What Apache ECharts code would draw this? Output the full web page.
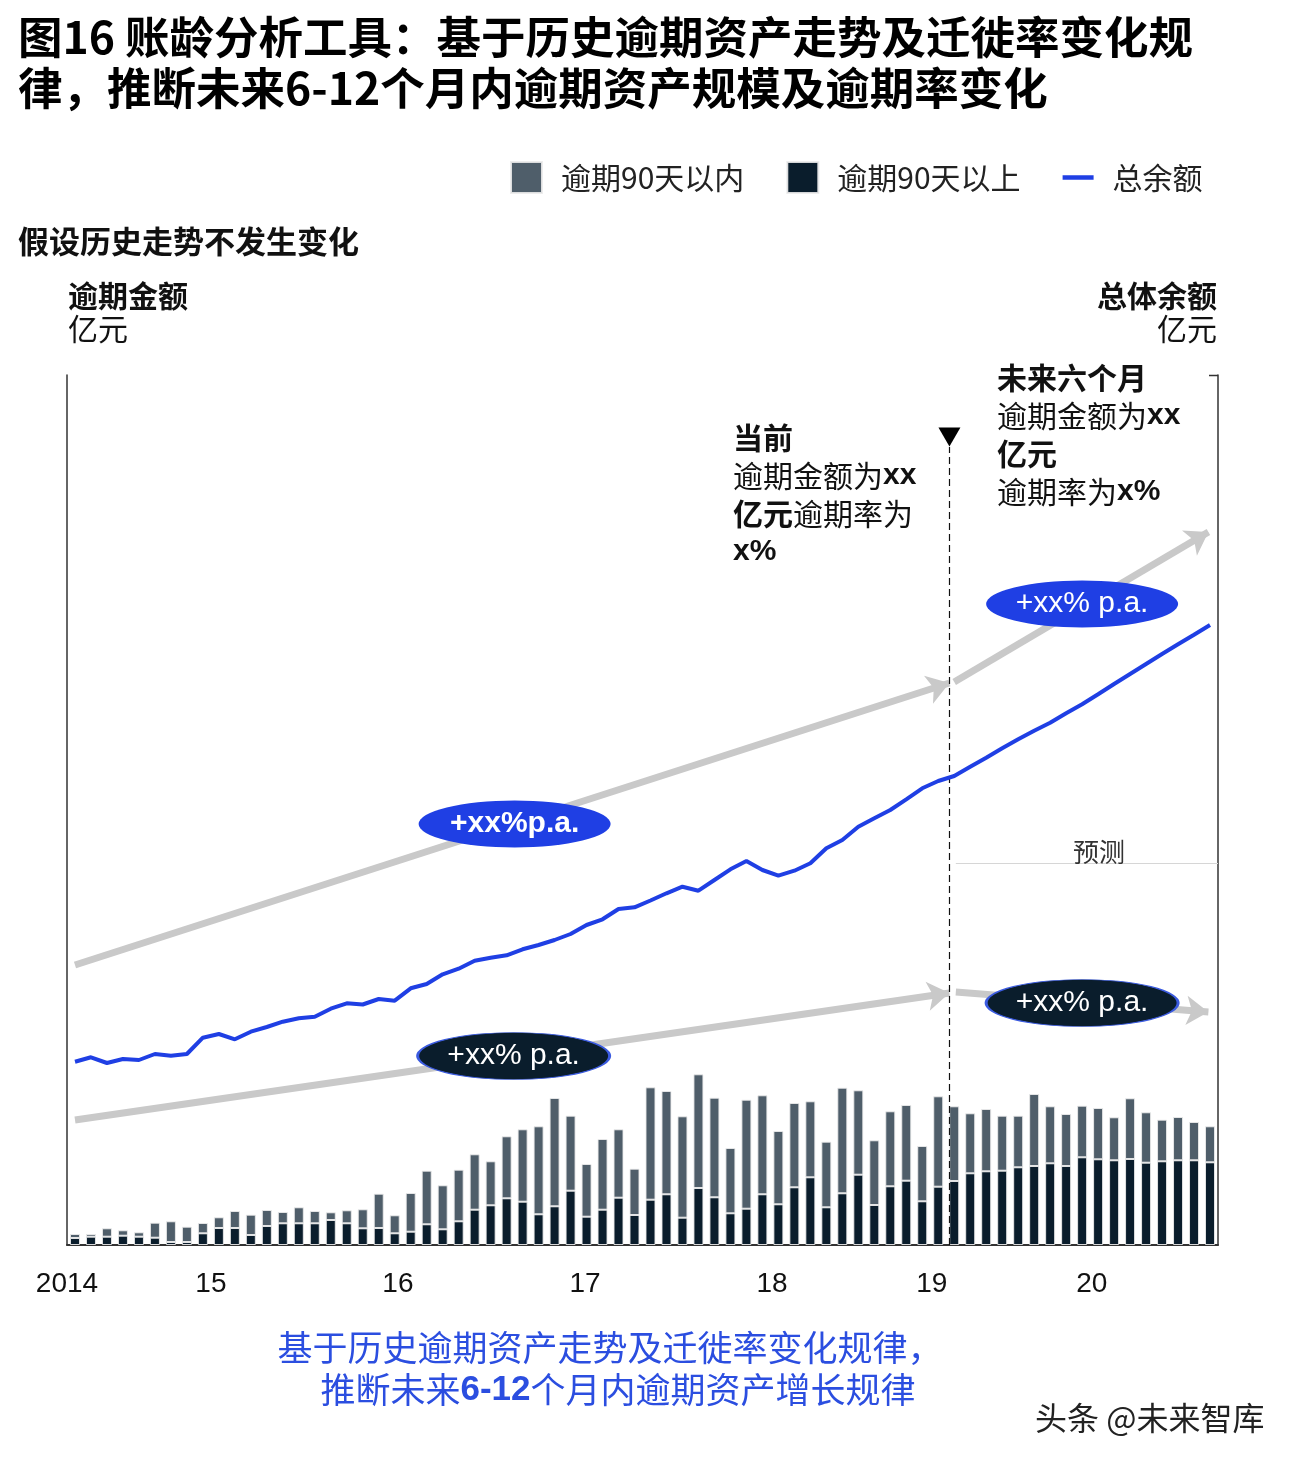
<!DOCTYPE html>
<html><head><meta charset="utf-8">
<script src="https://cdn.jsdelivr.net/npm/echarts@6/dist/echarts.min.js"></script>
<style>html,body{margin:0;padding:0;background:#fff}#c{width:1300px;height:1464px}</style>
</head><body><div id="c"></div>
<script>
// ---- data (亿元, relative scale) ----
const periods = Array.from({length: 72}, (_, i) => 'P' + (i + 1));
const over90 = [7,8.3,8.3,9.3,8.3,7.3,3,3,11.7,17,17,10,19,21.7,21.7,21.7,25,21.7,16.7,17,
  11.7,13.3,20.7,15.7,23.7,35.3,39.7,46.7,43.3,30.7,38.7,54.3,28.3,35.3,47.3,30,45.3,50.7,27.3,57,
  47.7,31.7,36.3,50.7,40.7,57.7,67.7,37.7,51.7,70.3,40,58.7,64.3,43.7,58.3,64,71.7,73.7,74.3,77.7,
  79,81.7,79,87.7,85.7,84.7,86,82.3,83.7,84.7,84.7,82.7];
const within90 = [4,2.7,8.4,5.4,4.4,15,20.7,15.3,10.3,10.7,17,20.3,16,11.3,16,12.3,7.7,13,19,34.3,
  18,38.7,53.6,44,51.6,55.4,44,62,72.4,88,108.3,75,52.7,70.7,68.4,46.3,112.4,103.3,101.4,113.7,
  99.6,65.3,109,99,73.3,84.3,76,65.6,105.6,84.4,64.7,75,75.7,55.3,90.4,74.7,60,62.3,55,51.6,
  72,57,52,51.6,51.3,43,60.7,50.4,41.6,43.3,38.3,36];
const totalBalance = [183.3,187.7,182,186,185,191,189.3,191,207.3,211,205.7,213.3,218,223.3,226.7,228.3,236.3,241.7,240.5,246,
  244.3,256.7,261,270.7,276.3,284.3,287.3,289.7,295.7,300,305,311,320,325.7,336,337.7,344.5,351.7,358.3,354.3,
  365,375.7,384,375,369.3,374.3,381.7,396.7,405,418.3,426.7,435,445.7,456.7,464,469,478.3,487.3,496.7,505.7,
  514.3,522.3,531.7,540.7,550.7,561,571,581,591,600.7,610.3,620];
const tickPositions = [-0.5, 8.5, 20.2, 31.9, 43.6, 53.6, 63.6];
const tickLabels = ['2014', '15', '16', '17', '18', '19', '20'];
const forecastStart = 54.7;
const arrowSegments = [
  [[0, 280], [54.7, 562]],
  [[55.0, 563], [70.9, 713]],
  [[0, 125], [54.7, 252]],
  [[55.1, 253], [70.9, 233]]
];
const growthBadges = [
  {pos: [27.5, 421], text: '+xx%p.a.', kind: 'blue', bold: true},
  {pos: [63.0, 641], text: '+xx% p.a.', kind: 'blue', bold: false},
  {pos: [27.44, 189], text: '+xx% p.a.', kind: 'dark', bold: false},
  {pos: [63.0, 242], text: '+xx% p.a.', kind: 'dark', bold: false}
];

const CJK = "'Noto Sans CJK SC', sans-serif";
const LAT = "'Liberation Sans', Arial, sans-serif";
const GRAY = '#4f5e6a', DARK = '#0a1d2c', BLUE = '#1f3fe4';

const chart = echarts.init(document.getElementById('c'), null, {renderer: 'canvas'});

const txt = (x, y, text, o = {}) => ({
  type: 'text', x, y, z: 100,
  style: Object.assign({text, fontFamily: CJK, fontSize: 30, fill: '#111', align: 'left', verticalAlign: 'middle'}, o)
});
const boldRich = (size, color) => ({
  b: {fontWeight: 'bold', fontFamily: CJK, fontSize: size, fill: color, lineHeight: 38},
  n: {fontFamily: CJK, fontSize: size, fill: color, lineHeight: 38},
  a: {fontWeight: 'bold', fontFamily: LAT, fontSize: size, fill: color, lineHeight: 38}
});

const option = {
  animation: false,
  backgroundColor: '#fff',
  grid: {left: 67, right: 82, top: 375, bottom: 219},
  legend: {
    left: 510, top: 161, padding: 0, itemWidth: 31, itemHeight: 31, itemGap: 42,
    symbolKeepAspect: true,
    textStyle: {fontSize: 30, fontFamily: CJK, color: '#222', padding: [0, 0, 2, 14]},
    data: [
      {name: '逾期90天以内', icon: 'rect'},
      {name: '逾期90天以上', icon: 'rect'},
      {name: '总余额', icon: 'path://M0,0h31v4.5h-31z'}
    ]
  },
  xAxis: [
    {type: 'category', data: periods, position: 'top', boundaryGap: true,
      axisLine: {show: false}, axisTick: {show: false}, axisLabel: {show: false}},
    {type: 'value', min: -0.5, max: 71.5, position: 'bottom',
      axisLine: {show: true, onZero: false, lineStyle: {color: '#333', width: 2}},
      axisTick: {show: false}, splitLine: {show: false},
      axisLabel: {
        customValues: tickPositions,
        formatter: v => {
          let best = 0;
          tickPositions.forEach((p, i) => { if (Math.abs(p - v) < Math.abs(tickPositions[best] - v)) best = i; });
          return tickLabels[best];
        },
        fontSize: 28, fontFamily: LAT, color: '#111', margin: 25
      }}
  ],
  yAxis: [
    {type: 'value', min: 0, max: 870, position: 'left',
      axisLine: {show: true, onZero: false, lineStyle: {color: '#333', width: 1.5}},
      axisTick: {show: false}, axisLabel: {show: false}, splitLine: {show: false}},
    {type: 'value', min: 0, max: 870, position: 'right',
      axisLine: {show: true, onZero: false, lineStyle: {color: '#333', width: 1.5}},
      axisTick: {show: false}, axisLabel: {show: false}, splitLine: {show: false}}
  ],
  series: [
    {name: '逾期90天以上', type: 'bar', stack: 'od', xAxisIndex: 0, yAxisIndex: 0, barWidth: 10,
      data: over90, itemStyle: {color: DARK, borderColor: 'rgba(235,235,235,0.9)', borderWidth: 1}},
    {name: '逾期90天以内', type: 'bar', stack: 'od', xAxisIndex: 0, yAxisIndex: 0, barWidth: 10,
      data: within90, itemStyle: {color: GRAY, borderColor: 'rgba(235,235,235,0.9)', borderWidth: 1}},
    {name: 'arrows', type: 'line', xAxisIndex: 1, yAxisIndex: 1, data: [], z: 3,
      markLine: {
        silent: true, symbol: ['none', 'arrow'], symbolSize: 22, label: {show: false},
        lineStyle: {color: '#c9c9c9', width: 7, type: 'solid'},
        emphasis: {disabled: true},
        data: arrowSegments.map(s => [{coord: s[0]}, {coord: s[1]}])
      }},
    {name: 'guides', type: 'line', xAxisIndex: 1, yAxisIndex: 1, data: [], z: 4,
      markLine: {
        silent: true, symbol: ['none', 'none'], label: {show: false}, emphasis: {disabled: true},
        data: [
          [{coord: [forecastStart, 0], lineStyle: {color: '#111', width: 1.2, type: [7, 4]}},
           {coord: [forecastStart, 798]}],
          [{coord: [55.1, 382], lineStyle: {color: '#d6d6d6', width: 1, type: 'solid'}},
           {coord: [71.5, 382]}]
        ]
      }},
    {name: '总余额', type: 'line', xAxisIndex: 0, yAxisIndex: 1, data: totalBalance, z: 5,
      symbol: 'none', lineStyle: {color: BLUE, width: 4}, itemStyle: {color: BLUE}},
    {name: 'badges', type: 'line', xAxisIndex: 1, yAxisIndex: 1, data: [], z: 10,
      markPoint: {
        silent: true,
        data: growthBadges.map(b => ({
          coord: b.pos, symbol: 'circle', symbolSize: [192, 47],
          itemStyle: b.kind === 'blue' ? {color: BLUE} : {color: DARK, borderColor: '#3b5be0', borderWidth: 1.5},
          label: {show: true, position: 'inside', formatter: b.text, color: '#fff', fontSize: 30,
            fontFamily: LAT, fontWeight: b.bold ? 'bold' : 'normal'}
        })).concat([{
          coord: [forecastStart, 808], symbol: 'triangle', symbolRotate: 180, symbolSize: [22, 19],
          itemStyle: {color: '#000'}, label: {show: false}
        }])
      }}
  ],
  graphic: [
    txt(18, 37, '图16 账龄分析工具：基于历史逾期资产走势及迁徙率变化规', {fontSize: 44.5, fontWeight: 'bold', fill: '#000'}),
    txt(18, 88, '律，推断未来6-12个月内逾期资产规模及逾期率变化', {fontSize: 44.5, fontWeight: 'bold', fill: '#000'}),
    txt(18, 241, '假设历史走势不发生变化', {fontSize: 31, fontWeight: 'bold'}),
    txt(68, 296, '逾期金额', {fontWeight: 'bold'}),
    txt(68, 329, '亿元'),
    txt(1217, 296, '总体余额', {fontWeight: 'bold', align: 'right'}),
    txt(1217, 329, '亿元', {align: 'right'}),
    {type: 'polyline', z: 100, shape: {points: [[1209, 375.5], [1218, 375.5]]}, style: {stroke: '#333', lineWidth: 1.5}},
    {type: 'text', x: 733, y: 419, z: 100, style: {
      text: '{b|当前}\n{n|逾期金额为}{a|xx}\n{b|亿元}{n|逾期率为}\n{a|x%}',
      rich: boldRich(30, '#111'), verticalAlign: 'top', align: 'left'}},
    {type: 'text', x: 997, y: 359, z: 100, style: {
      text: '{b|未来六个月}\n{n|逾期金额为}{a|xx}\n{b|亿元}\n{n|逾期率为}{a|x%}',
      rich: boldRich(30, '#111'), verticalAlign: 'top', align: 'left'}},
    txt(1099, 852, '预测', {fontSize: 26, align: 'center', fill: '#333'}),
    {type: 'text', x: 610, y: 1348, z: 100, style: {
      text: '基于历史逾期资产走势及迁徙率变化规律，', fontFamily: CJK, fontSize: 35, fill: '#2b4ee0',
      align: 'center', verticalAlign: 'middle'}},
    {type: 'text', x: 618, y: 1390, z: 100, style: {
      text: '{n|推断未来}{a|6-12}{n|个月内逾期资产增长规律}',
      rich: {n: {fontFamily: CJK, fontSize: 35, fill: '#2b4ee0'}, a: {fontFamily: LAT, fontWeight: 'bold', fontSize: 35, fill: '#2b4ee0'}},
      align: 'center', verticalAlign: 'middle'}},
    txt(1035, 1418, '头条 @未来智库', {fontSize: 32, fill: '#222'})
  ]
};
chart.setOption(option);
</script></body></html>
